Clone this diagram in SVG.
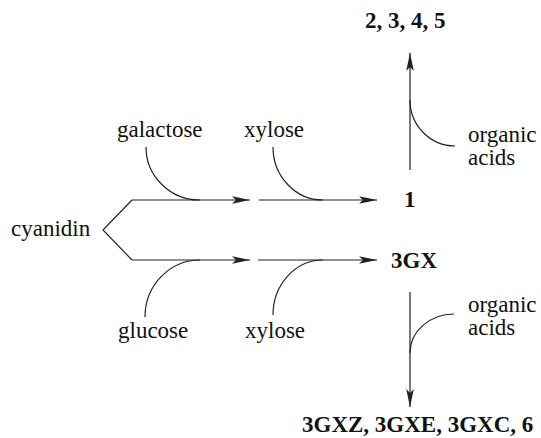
<svg xmlns="http://www.w3.org/2000/svg" width="541" height="438" viewBox="0 0 541 438">
  <style>
    .t { font-family: "Liberation Serif", "Times New Roman", serif; font-size: 23px; fill: #111; }
    .b { font-weight: bold; }
    .ln { fill: none; stroke: #222; stroke-width: 1.2; }
  </style>
  <defs>
    <marker id="ah" markerUnits="userSpaceOnUse" viewBox="-18 -4 18 8" markerWidth="18" markerHeight="8" refX="0" refY="0" orient="auto">
      <path d="M0,0 L-18,-3.8 L-14,0 L-18,3.8 Z" fill="#222"/>
    </marker>
  </defs>
  <rect width="541" height="438" fill="#fff"/>

  <g id="connectors">
    <!-- cyanidin branches -->
    <polyline class="ln" points="132,200 103,230 132,260"/>
    <line class="ln" x1="132" y1="200" x2="250" y2="200" marker-end="url(#ah)"/>
    <line class="ln" x1="132" y1="260" x2="250" y2="260" marker-end="url(#ah)"/>
    <path class="ln" d="M146,147 A54,53 0 0 0 200,200"/>
    <path class="ln" d="M145,317 A55,57 0 0 1 200,260"/>
    <!-- second step -->
    <line class="ln" x1="259" y1="200" x2="377" y2="200" marker-end="url(#ah)"/>
    <line class="ln" x1="258" y1="260" x2="377" y2="260" marker-end="url(#ah)"/>
    <path class="ln" d="M273,147 A50,53 0 0 0 323,200"/>
    <path class="ln" d="M273,315 A50,55 0 0 1 323,260"/>
    <!-- vertical arrows -->
    <line class="ln" x1="410" y1="170" x2="410" y2="53" marker-end="url(#ah)"/>
    <path class="ln" d="M410,100 A45,46 0 0 0 455,146"/>
    <line class="ln" x1="410" y1="292" x2="410" y2="407" marker-end="url(#ah)"/>
    <path class="ln" d="M410,353 A44,39 0 0 1 454,314"/>
  </g>

  <g id="cyanidin"><text class="t" x="11" y="236">cyanidin</text></g>
  <g id="galactose"><text class="t" x="117" y="137">galactose</text></g>
  <g id="glucose"><text class="t" x="118" y="338">glucose</text></g>
  <g id="xylose-top"><text class="t" x="244" y="137">xylose</text></g>
  <g id="xylose-bottom"><text class="t" x="245" y="338">xylose</text></g>
  <g id="node-1"><text class="t b" x="404" y="207">1</text></g>
  <g id="node-3GX"><text class="t b" x="391" y="268">3GX</text></g>
  <g id="products-top"><text class="t b" x="365" y="28">2, 3, 4, 5</text></g>
  <g id="products-bottom"><text class="t b" x="302" y="432">3GXZ, 3GXE, 3GXC, 6</text></g>
  <g id="organic-top"><text class="t" x="468" y="142">organic</text><text class="t" x="468" y="165">acids</text></g>
  <g id="organic-bottom"><text class="t" x="468" y="312">organic</text><text class="t" x="468" y="335">acids</text></g>
</svg>
